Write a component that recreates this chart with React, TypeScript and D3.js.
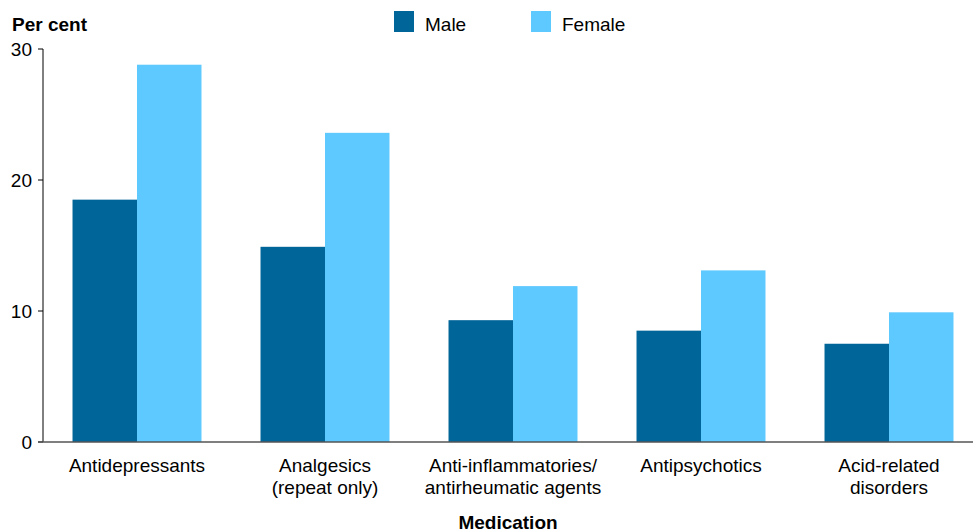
import React from "react";
import * as d3 from "d3";

const categories: string[][] = [
  ["Antidepressants"],
  ["Analgesics", "(repeat only)"],
  ["Anti-inflammatories/", "antirheumatic agents"],
  ["Antipsychotics"],
  ["Acid-related", "disorders"],
];
const maleValues = [18.5, 14.9, 9.3, 8.5, 7.5];
const femaleValues = [28.8, 23.6, 11.9, 13.1, 9.9];
const yTicks = [0, 10, 20, 30];
const seriesNames = ["Male", "Female"];
const seriesColors = ["#006699", "#5EC9FF"];

const W = 973;
const H = 532;
const FONT = "'Liberation Sans', Arial, sans-serif";
const FS = 19;

export default function App() {
  const x = d3
    .scaleBand<number>()
    .domain(categories.map((_, i) => i))
    .range([43, 983])
    .paddingInner(0.314)
    .paddingOuter(0.157);
  const x1 = d3.scaleBand<number>().domain([0, 1]).range([0, x.bandwidth()]);
  const y = d3.scaleLinear().domain([0, 30]).range([442, 49]);
  const series = [maleValues, femaleValues];

  return (
    <svg
      width={W}
      height={H}
      style={{ position: "absolute", left: 0, top: 0, background: "#fff" }}
      fontFamily={FONT}
    >
      <text x={12} y={31} fontSize={FS} fontWeight="bold" fill="#000">
        Per cent
      </text>
      {/* legend */}
      {seriesNames.map((n, i) => (
        <g key={n}>
          <rect x={394 + i * 137} y={11} width={20} height={21} fill={seriesColors[i]} />
          <text x={425 + i * 137} y={31} fontSize={FS} fill="#000">
            {n}
          </text>
        </g>
      ))}
      {/* bars */}
      {series.map((vals, s) =>
        vals.map((v, i) => (
          <rect
            key={`${s}-${i}`}
            x={(x(i) as number) + (x1(s) as number)}
            y={y(v)}
            width={x1.bandwidth()}
            height={y(0) - y(v)}
            fill={seriesColors[s]}
          />
        ))
      )}
      {/* y axis */}
      <line x1={43} x2={43} y1={y(30)} y2={y(0)} stroke="#000" strokeWidth={1} />
      {yTicks.map((t) => (
        <g key={t}>
          <line x1={38} x2={43} y1={y(t)} y2={y(t)} stroke="#000" strokeWidth={1} />
          <text x={32} y={y(t) + 7} fontSize={FS} textAnchor="end" fill="#000">
            {t}
          </text>
        </g>
      ))}
      <line x1={38} x2={973} y1={y(0)} y2={y(0)} stroke="#555" strokeWidth={1.5} />
      {/* category labels */}
      {categories.map((lines, i) => (
        <text
          key={i}
          x={(x(i) as number) + x.bandwidth() / 2}
          y={472}
          fontSize={FS}
          textAnchor="middle"
          fill="#000"
        >
          {lines.map((l, j) => (
            <tspan key={j} x={(x(i) as number) + x.bandwidth() / 2} dy={j === 0 ? 0 : 22}>
              {l}
            </tspan>
          ))}
        </text>
      ))}
      <text x={508} y={529} fontSize={FS} fontWeight="bold" textAnchor="middle" fill="#000">
        Medication
      </text>
    </svg>
  );
}
